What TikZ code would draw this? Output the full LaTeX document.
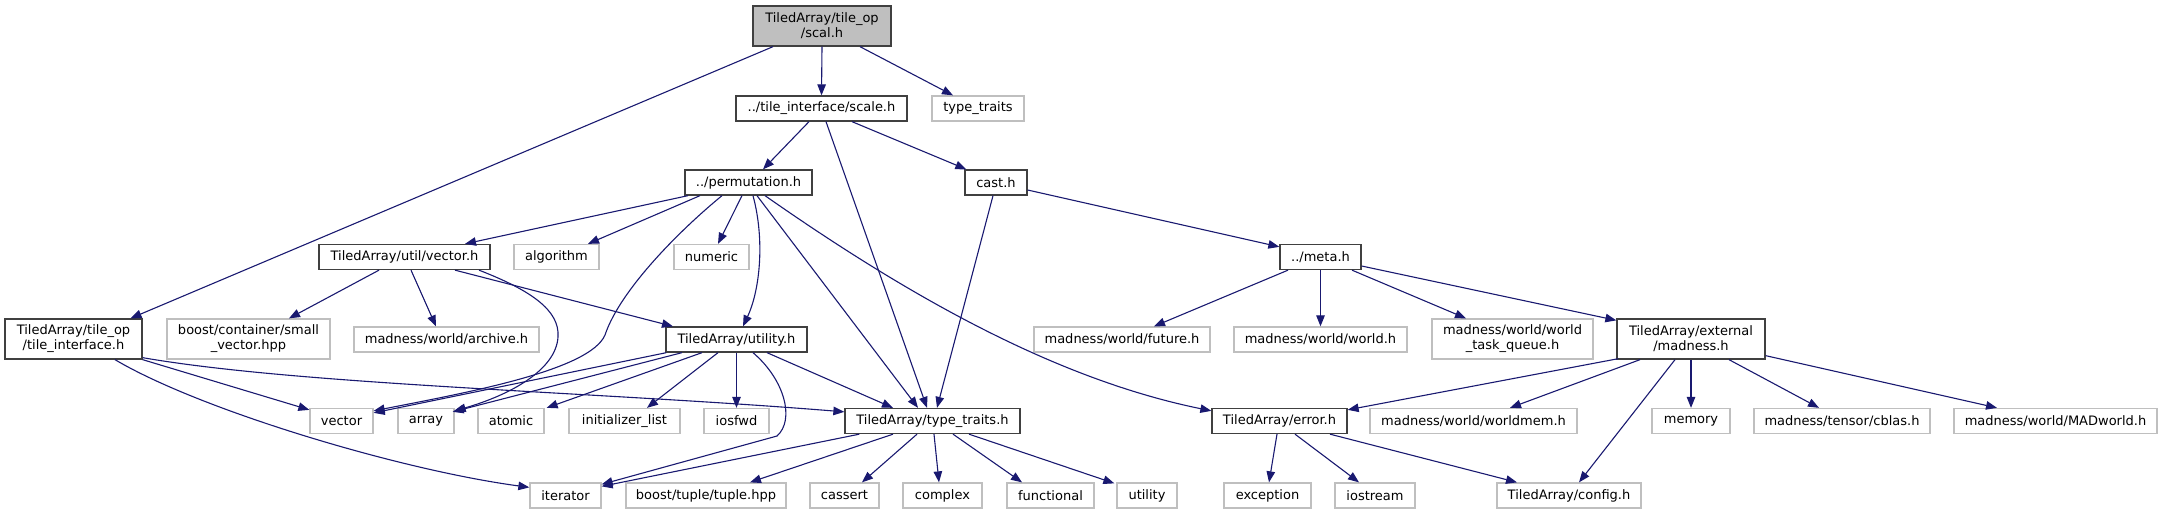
\documentclass[tikz,border=0pt]{standalone}
\usepackage{fontspec}
\setmainfont{DejaVu Sans}
\usetikzlibrary{arrows.meta,calc}
\definecolor{docborder}{HTML}{404040}
\definecolor{extborder}{HTML}{BFBFBF}
\definecolor{mainfill}{HTML}{BFBFBF}
\definecolor{edgecol}{HTML}{191970}
\newcommand{\nodefont}{\fontsize{13}{15}\selectfont}
\tikzset{
  doc/.style={draw=docborder, line width=1.3pt, fill=white, inner sep=0pt, align=center, font=\nodefont, minimum height=25pt},
  ext/.style={draw=extborder, line width=1.3pt, fill=white, inner sep=0pt, align=center, font=\nodefont, minimum height=25pt},
  mainnode/.style={doc, fill=mainfill},
  tall/.style={minimum height=40pt},
  edge/.style={draw=edgecol, line width=1.1pt, -{Triangle[length=11pt,width=8.5pt]}},
}
\begin{document}
\begin{tikzpicture}[x=1pt,y=-1pt]
\useasboundingbox (0,0) rectangle (2162,515);
% row 1
\node[mainnode, tall, minimum width=138pt] (scal) at (822,26) {TiledArray/tile\_op\\/scal.h};
% row 2
\node[doc, minimum width=171pt] (scaleh) at (821.5,108.5) {../tile\_interface/scale.h};
\node[ext, minimum width=92pt] (ttstd) at (978,108.5) {type\_traits};
% row 3
\node[doc, minimum width=127pt] (perm) at (748.5,182.5) {../permutation.h};
\node[doc, minimum width=62pt] (cast) at (996,182.5) {cast.h};
% row 4
\node[doc, minimum width=171pt] (utilvec) at (404.5,257) {TiledArray/util/vector.h};
\node[ext, minimum width=85pt] (algorithm) at (556.5,257) {algorithm};
\node[ext, minimum width=75pt] (numeric) at (711.5,257) {numeric};
\node[doc, minimum width=81pt] (meta) at (1320.5,257) {../meta.h};
% row 5
\node[doc, tall, minimum width=137pt] (tileint) at (73.5,339) {TiledArray/tile\_op\\/tile\_interface.h};
\node[ext, tall, minimum width=163pt] (smallvec) at (248.5,339) {boost/container/small\\\_vector.hpp};
\node[ext, minimum width=185pt] (archive) at (446.5,339.5) {madness/world/archive.h};
\node[doc, minimum width=141pt] (utility) at (736.5,339.5) {TiledArray/utility.h};
\node[ext, minimum width=176pt] (future) at (1122,339.5) {madness/world/future.h};
\node[ext, minimum width=173pt] (world) at (1320.5,339.5) {madness/world/world.h};
\node[ext, tall, minimum width=161pt] (wtq) at (1512.5,339) {madness/world/world\\\_task\_queue.h};
\node[doc, tall, minimum width=148pt] (extmad) at (1691,339) {TiledArray/external\\/madness.h};
% row 6
\node[ext, minimum width=63pt] (vector) at (341.5,421) {vector};
\node[ext, minimum width=56pt] (array) at (426,421) {array};
\node[ext, minimum width=66pt] (atomic) at (511,421) {atomic};
\node[ext, minimum width=111pt] (initlist) at (624.5,421) {initializer\_list};
\node[ext, minimum width=65pt] (iosfwd) at (736.5,421) {iosfwd};
\node[doc, minimum width=175pt] (tth) at (932.5,421) {TiledArray/type\_traits.h};
\node[doc, minimum width=135pt] (error) at (1279.5,421) {TiledArray/error.h};
\node[ext, minimum width=207pt] (worldmem) at (1473.5,421) {madness/world/worldmem.h};
\node[ext, minimum width=78pt] (memory) at (1691,421) {memory};
\node[ext, minimum width=176pt] (cblas) at (1842,421) {madness/tensor/cblas.h};
\node[ext, minimum width=203pt] (madworld) at (2055.5,421) {madness/world/MADworld.h};
% row 7
\node[ext, minimum width=71pt] (iterator) at (565.5,495.5) {iterator};
\node[ext, minimum width=160pt] (tuple) at (706,495.5) {boost/tuple/tuple.hpp};
\node[ext, minimum width=69pt] (cassert) at (844.5,495.5) {cassert};
\node[ext, minimum width=79pt] (complex) at (942.5,495.5) {complex};
\node[ext, minimum width=87pt] (functional) at (1050.5,495.5) {functional};
\node[ext, minimum width=60pt] (utilstd) at (1147,495.5) {utility};
\node[ext, minimum width=87pt] (exception) at (1267.5,495.5) {exception};
\node[ext, minimum width=80pt] (iostream) at (1375,495.5) {iostream};
\node[ext, minimum width=144pt] (config) at (1569,495.5) {TiledArray/config.h};

% edges from scal.h
\draw[edge] ($(scal.south)+(-49,0)$) -- ($(tileint.north)+(57,0)$);
\draw[edge] (scal.south) -- (scaleh.north);
\draw[edge] ($(scal.south)+(38,0)$) -- ($(ttstd.north)+(-25,0)$);
% scale.h
\draw[edge] ($(scaleh.south)+(-12.5,0)$) -- ($(perm.north)+(14.5,0)$);
\draw[edge] ($(scaleh.south)+(4.5,0)$) -- ($(tth.north)+(-5.5,0)$);
\draw[edge] ($(scaleh.south)+(30.5,0)$) -- ($(cast.north west)+(2,0)$);
% cast.h
\draw[edge] ($(cast.east)+(0,7.5)$) -- ($(meta.north west)+(0,3)$);
\draw[edge] ($(cast.south)+(-3,0)$) -- ($(tth.north)+(4.5,0)$);
% permutation.h
\draw[edge] ($(perm.south)+(-60.5,0)$) -- ($(utilvec.north)+(60.5,0)$);
\draw[edge] ($(perm.south)+(-48.5,0)$) -- ($(algorithm.north)+(31.5,0)$);
\draw[edge] ($(perm.south)+(-6.5,0)$) -- ($(numeric.north)+(6.5,0)$);
\draw[edge] ($(perm.south)+(4.5,0)$) .. controls (765,240) and (760,290) .. ($(utility.north)+(6.5,0)$);
\draw[edge] ($(perm.south)+(8.5,0)$) -- ($(tth.north)+(-14.5,0)$);
\draw[edge] ($(perm.south)+(16.5,0)$) .. controls (900,290) and (1050,378) .. ($(error.north west)+(0,3)$);
\draw[edge] ($(perm.south)+(-26.5,0)$) .. controls (680,230) and (620,290) .. (605,335) .. controls (590,370) and (470,392) .. ($(vector.north east)+(0,3)$);
% util/vector.h
\draw[edge] ($(utilvec.south)+(-25.5,0)$) -- ($(smallvec.north)+(40.5,0)$);
\draw[edge] ($(utilvec.south)+(6.5,0)$) -- ($(archive.north)+(-10.5,0)$);
\draw[edge] ($(utilvec.south)+(50.5,0)$) -- ($(utility.north)+(-63.5,0)$);
\draw[edge] ($(utilvec.south)+(74.5,0)$) .. controls (530,290) and (560,310) .. (558,337) .. controls (556,370) and (510,395) .. ($(array.north east)+(0,3)$);
% utility.h
\draw[edge] ($(utility.south west)+(1,0)$) -- ($(vector.north east)+(0,5)$);
\draw[edge] ($(utility.south)+(-54.5,0)$) -- ($(array.north east)+(-2,4)$);
\draw[edge] ($(utility.south)+(-34.5,0)$) -- ($(atomic.north east)+(2,0)$);
\draw[edge] ($(utility.south)+(-18.5,0)$) -- ($(initlist.north)+(22.5,0)$);
\draw[edge] (utility.south) -- (iosfwd.north);
\draw[edge] ($(utility.south)+(16.5,0)$) .. controls (785,380) and (795,420) .. (777,436) -- ($(iterator.north east)+(0,2)$);
\draw[edge] ($(utility.south)+(30.5,0)$) -- ($(tth.north)+(-39.5,0)$);
% tile_interface.h
\draw[edge] (tileint.south east) -- ($(vector.north west)+(0,2)$);
\draw[edge] ($(tileint.south east)+(0,-2)$) .. controls (300,385) and (600,392) .. ($(tth.north west)+(0,4)$);
\draw[edge] ($(tileint.south)+(41.5,0)$) .. controls (200,410) and (400,470) .. ($(iterator.north west)+(0,5)$);
% type_traits.h
\draw[edge] ($(tth.south west)+(15,0)$) -- ($(iterator.north east)+(0,4)$);
\draw[edge] ($(tth.south)+(-39.5,0)$) -- ($(tuple.north)+(44,0)$);
\draw[edge] ($(tth.south)+(-15.5,0)$) -- ($(cassert.north)+(17.5,0)$);
\draw[edge] ($(tth.south)+(1.5,0)$) -- ($(complex.north)+(-3.5,0)$);
\draw[edge] ($(tth.south)+(20.5,0)$) -- ($(functional.north)+(-28.5,0)$);
\draw[edge] ($(tth.south)+(36.5,0)$) -- ($(utilstd.north west)+(-2,1)$);
% meta.h
\draw[edge] ($(meta.south)+(-32.5,0)$) -- ($(future.north)+(32,0)$);
\draw[edge] (meta.south) -- (world.north);
\draw[edge] ($(meta.south)+(31.5,0)$) -- ($(wtq.north)+(-46.5,0)$);
\draw[edge] ($(meta.east)+(0,9)$) -- ($(extmad.north west)+(0,2)$);
% external/madness.h
\draw[edge] ($(extmad.south west)+(2,-1)$) -- ($(error.north east)+(0,2)$);
\draw[edge] ($(extmad.south)+(-51,0)$) -- ($(worldmem.north)+(36.5,0)$);
\draw[edge] ($(extmad.south)+(-16,0)$) -- ($(config.north)+(10,0)$);
\draw[edge] (extmad.south) -- (memory.north);
\draw[edge] ($(extmad.south)+(38,0)$) -- ($(cblas.north)+(-23,0)$);
\draw[edge] ($(extmad.south east)+(0,-4)$) -- ($(madworld.north)+(-58.5,0)$);
% error.h
\draw[edge] ($(error.south)+(-2.5,0)$) -- ($(exception.north)+(1.5,0)$);
\draw[edge] ($(error.south)+(15.5,0)$) -- ($(iostream.north)+(-16,0)$);
\draw[edge] ($(error.south)+(50.5,0)$) -- ($(config.north)+(-52,0)$);
\end{tikzpicture}
\end{document}
